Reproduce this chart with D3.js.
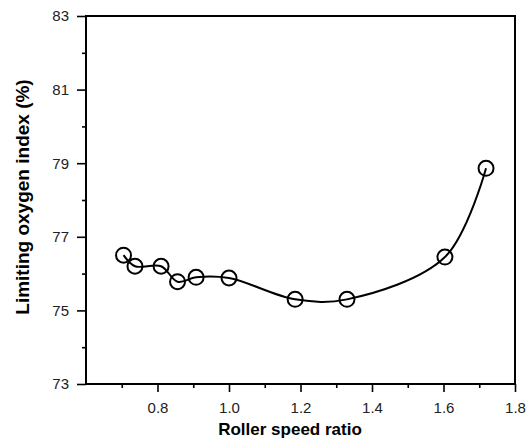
<!DOCTYPE html>
<html>
<head>
<meta charset="utf-8">
<script src="https://cdn.jsdelivr.net/npm/d3@7"></script>
<style>
  body { margin: 0; background: #fff; }
  svg text { font-family: "Liberation Sans", Arial, sans-serif; }
</style>
</head>
<body>
<div id="chart"></div>
<script>
// roller speed ratio vs limiting oxygen index
var speedRatio = [0.705, 0.737, 0.81, 0.856, 0.908, 1.0, 1.185, 1.33, 1.604, 1.719];
var loi        = [76.5, 76.2, 76.2, 75.78, 75.9, 75.88, 75.3, 75.3, 76.45, 78.86];

var xMajor = [0.8, 1.0, 1.2, 1.4, 1.6, 1.8];
var xMinor = [0.7, 0.9, 1.1, 1.3, 1.5, 1.7];
var yMajor = [73, 75, 77, 79, 81, 83];
var yMinor = [74, 76, 78, 80, 82];

var width = 530, height = 438;
var margin = {top: 16, right: 15, bottom: 54, left: 86};

var svg = d3.select("#chart").append("svg")
  .attr("width", width)
  .attr("height", height);

var x = d3.scaleLinear().domain([0.6, 1.8]).range([margin.left, width - margin.right]);
var y = d3.scaleLinear().domain([73, 83]).range([height - margin.bottom, margin.top]);

// frame
svg.append("rect")
  .attr("x", x(0.6))
  .attr("y", y(83))
  .attr("width", x(1.8) - x(0.6))
  .attr("height", y(73) - y(83))
  .attr("fill", "none")
  .attr("stroke", "#000")
  .attr("stroke-width", 2);

// x axis
var xAxis = svg.append("g")
  .attr("transform", "translate(0," + y(73) + ")")
  .call(d3.axisBottom(x).tickValues(xMajor).tickSize(8).tickPadding(10)
    .tickFormat(d3.format(".1f")));
xAxis.select(".domain").remove();
svg.append("g")
  .attr("transform", "translate(0," + y(73) + ")")
  .call(d3.axisBottom(x).tickValues(xMinor).tickSize(4).tickFormat(""))
  .select(".domain").remove();

// y axis
var yAxis = svg.append("g")
  .attr("transform", "translate(" + x(0.6) + ",0)")
  .call(d3.axisLeft(y).tickValues(yMajor).tickSize(9).tickPadding(8));
yAxis.select(".domain").remove();
svg.append("g")
  .attr("transform", "translate(" + x(0.6) + ",0)")
  .call(d3.axisLeft(y).tickValues(yMinor).tickSize(4).tickFormat(""))
  .select(".domain").remove();

svg.selectAll(".tick line").attr("stroke", "#000").attr("stroke-width", 1.6);
svg.selectAll(".tick text")
  .attr("font-family", "Liberation Sans, Arial, sans-serif")
  .attr("font-size", 15)
  .attr("fill", "#222");

// axis titles
svg.append("text")
  .attr("x", 290)
  .attr("y", 435)
  .attr("text-anchor", "middle")
  .attr("font-size", 17)
  .attr("font-weight", "bold")
  .text("Roller speed ratio");

svg.append("text")
  .attr("transform", "translate(29,197) rotate(-90)")
  .attr("text-anchor", "middle")
  .attr("font-size", 19)
  .attr("font-weight", "bold")
  .text("Limiting oxygen index (%)");

// curve
var line = d3.line()
  .x(function(d, i) { return x(speedRatio[i]); })
  .y(function(d) { return y(d); })
  .curve(d3.curveCatmullRom.alpha(0.5));

svg.append("path")
  .datum(loi)
  .attr("d", line)
  .attr("fill", "none")
  .attr("stroke", "#000")
  .attr("stroke-width", 2);

svg.selectAll(".pt")
  .data(loi)
  .enter().append("circle")
  .attr("class", "pt")
  .attr("cx", function(d, i) { return x(speedRatio[i]); })
  .attr("cy", function(d) { return y(d); })
  .attr("r", 7.5)
  .attr("fill", "none")
  .attr("stroke", "#000")
  .attr("stroke-width", 2);
</script>
</body>
</html>
